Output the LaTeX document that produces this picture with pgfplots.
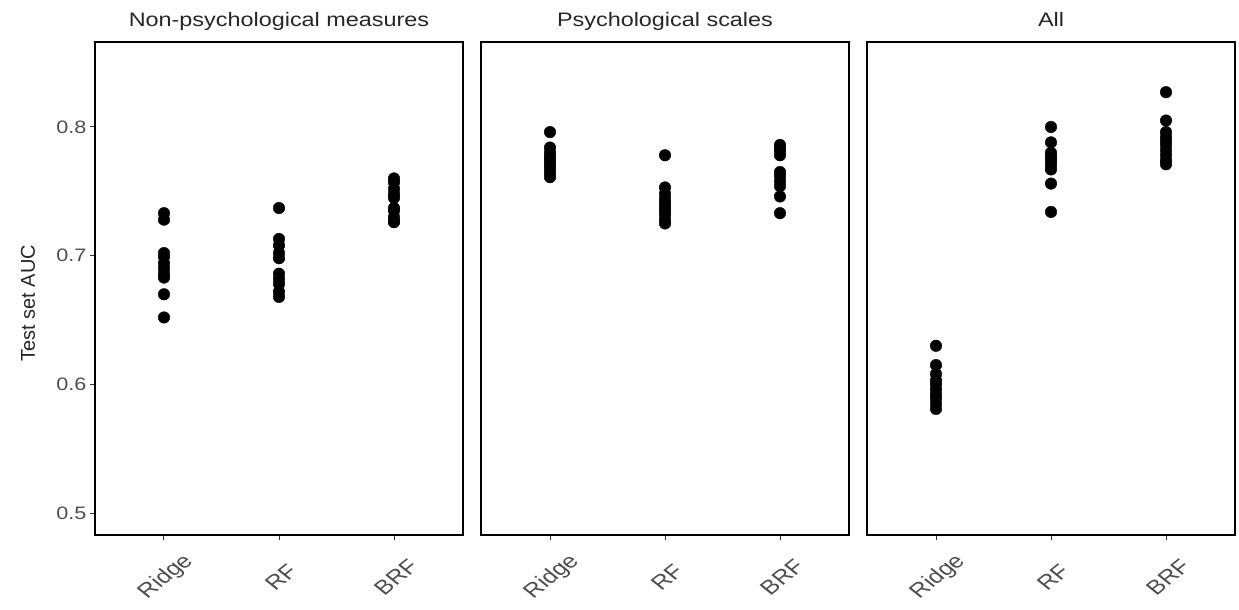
\documentclass[border=0pt]{standalone}
\usepackage{fontspec}
\setmainfont{Liberation Sans}[FakeStretch=1.2]
\newfontfamily\plainfont{Liberation Sans}
\usepackage{pgfplots}
\pgfplotsset{compat=1.18}
\usepgfplotslibrary{groupplots}
\definecolor{tickgray}{HTML}{4D4D4D}
\definecolor{tickline}{HTML}{333333}
\begin{document}
\begin{tikzpicture}
\path[use as bounding box] (-95bp,-75bp) rectangle (1144bp,535bp);
\begin{groupplot}[
  group style={group size=3 by 1, horizontal sep=18bp},
  scale only axis, width=368bp, height=493bp,
  xmin=-0.6, xmax=2.6, ymin=0.483, ymax=0.866,
  xtick={0,1,2}, xticklabels={Ridge,RF,BRF},
  ytick={0.5,0.6,0.7,0.8},
  xtick pos=bottom, ytick pos=left,
  yticklabel style={/pgf/number format/fixed, /pgf/number format/precision=1, /pgf/number format/fixed zerofill},
  /pgf/number format/assume math mode=true,
  tick align=outside, major tick length=5bp,
  tick style={tickline, line width=1bp},
  axis line style={line width=1.6bp, black},
  ticklabel style={font=\fontsize{18bp}{20bp}\selectfont, text=tickgray},
  xticklabel style={font=\plainfont\fontsize{20bp}{22bp}\selectfont, yshift=-37bp, xshift=2bp, xscale=1.25, rotate=45, anchor=center},
  title style={at={(0.5,1)}, anchor=base, yshift=10bp, font=\fontsize{19.5bp}{22bp}\selectfont, text=black!85},
  clip=false,
]
\nextgroupplot[title={Non-psychological measures}, ylabel={Test set AUC},
  ylabel style={font=\plainfont\fontsize{20bp}{22bp}\selectfont, text=black!85, at={(axis description cs:-0.182,0.47)}, anchor=center, rotate=0}]
\addplot[only marks, mark=*, mark size=5.8bp, black] coordinates {
(0,0.733) (0,0.728) (0,0.702) (0,0.699) (0,0.694) (0,0.690) (0,0.686) (0,0.683) (0,0.670) (0,0.652)
(1,0.737) (1,0.713) (1,0.708) (1,0.702) (1,0.698) (1,0.686) (1,0.682) (1,0.678) (1,0.672) (1,0.668)
(2,0.760) (2,0.757) (2,0.752) (2,0.748) (2,0.745) (2,0.737) (2,0.735) (2,0.730) (2,0.727) (2,0.726)
};
\nextgroupplot[title={Psychological scales}, ytick=\empty]
\addplot[only marks, mark=*, mark size=5.8bp, black] coordinates {
(0,0.796) (0,0.784) (0,0.780) (0,0.777) (0,0.775) (0,0.772) (0,0.770) (0,0.767) (0,0.764) (0,0.761)
(1,0.778) (1,0.753) (1,0.748) (1,0.744) (1,0.741) (1,0.738) (1,0.735) (1,0.732) (1,0.728) (1,0.725)
(2,0.786) (2,0.784) (2,0.781) (2,0.778) (2,0.765) (2,0.762) (2,0.758) (2,0.754) (2,0.746) (2,0.733)
};
\nextgroupplot[title={All}, ytick=\empty]
\addplot[only marks, mark=*, mark size=5.8bp, black] coordinates {
(0,0.630) (0,0.615) (0,0.608) (0,0.603) (0,0.600) (0,0.596) (0,0.592) (0,0.589) (0,0.585) (0,0.581)
(1,0.800) (1,0.788) (1,0.780) (1,0.777) (1,0.775) (1,0.773) (1,0.770) (1,0.767) (1,0.756) (1,0.734)
(2,0.827) (2,0.805) (2,0.796) (2,0.792) (2,0.789) (2,0.786) (2,0.782) (2,0.778) (2,0.774) (2,0.771)
};
\end{groupplot}
\end{tikzpicture}
\end{document}
